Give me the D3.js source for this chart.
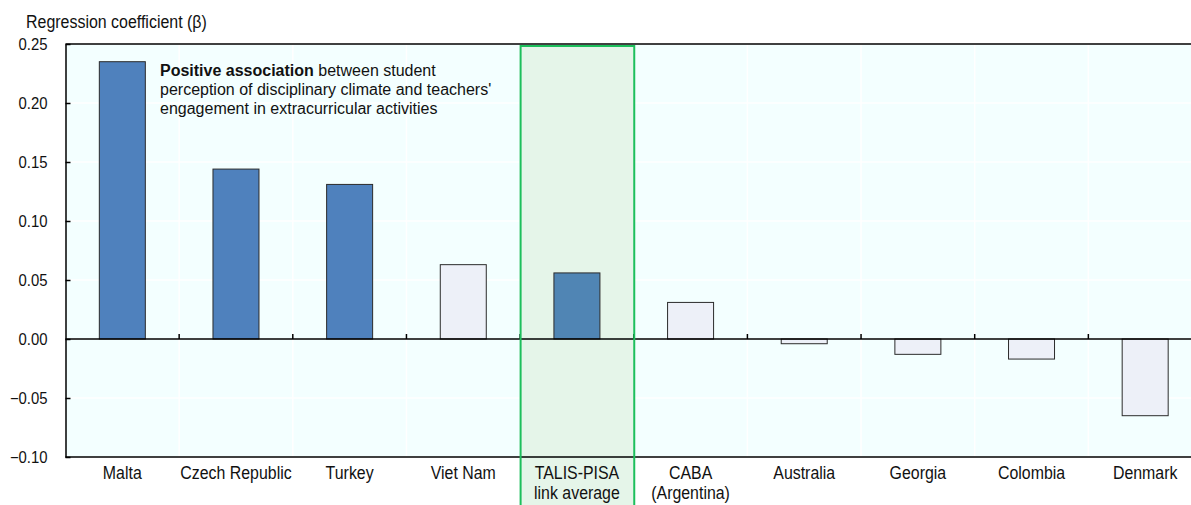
<!DOCTYPE html>
<html><head><meta charset="utf-8">
<script src="https://cdn.jsdelivr.net/npm/d3@7"></script>
<style>body{margin:0;background:#fff;}svg{display:block;font-family:"Liberation Sans",Arial,sans-serif;}</style>
</head><body><svg id="c" width="1191" height="505"></svg>
<script>
const categories = ["Malta","Czech Republic","Turkey","Viet Nam","TALIS-PISA\nlink average","CABA\n(Argentina)","Australia","Georgia","Colombia","Denmark"];
const values = [0.235, 0.144, 0.131, 0.063, 0.056, 0.031, -0.004, -0.013, -0.017, -0.065];
const significant = [true, true, true, false, true, false, false, false, false, false];
const yTicks = [0.25, 0.20, 0.15, 0.10, 0.05, 0.00, -0.05, -0.10];
const yLabel = "Regression coefficient (β)";
const highlight = "TALIS-PISA\nlink average";

const svg = d3.select("#c");
const m = {l:65.5, r:1202, t:44, b:457};
const x = d3.scaleBand().domain(categories).range([m.l, m.r]).paddingInner(0).paddingOuter(0);
const y = d3.scaleLinear().domain([-0.10, 0.25]).range([m.b, m.t]);
const txt = "#111";

svg.append("rect").attr("x", m.l).attr("y", m.t).attr("width", m.r - m.l).attr("height", m.b - m.t).attr("fill", "#f3ffff");

// gridlines
svg.append("g").selectAll("line").data(yTicks).join("line")
  .attr("x1", m.l).attr("x2", m.r).attr("y1", d => y(d)).attr("y2", d => y(d))
  .attr("stroke", "#ffffff").attr("stroke-width", 1.5);
svg.append("g").selectAll("line").data(categories.slice(1)).join("line")
  .attr("x1", d => x(d)).attr("x2", d => x(d)).attr("y1", m.t).attr("y2", m.b)
  .attr("stroke", "#ffffff").attr("stroke-width", 1.5);

// highlight box fill
const hx = x(highlight);
svg.append("rect").attr("x", hx + 0.5).attr("y", 46).attr("width", x.bandwidth()).attr("height", 470)
  .attr("fill", "#e5f5e9");

// bars
const bw = 46;
svg.append("g").selectAll("rect").data(categories).join("rect")
  .attr("x", d => x(d) + x.bandwidth()/2 - bw/2)
  .attr("width", bw)
  .attr("y", (d,i) => y(Math.max(0, values[i])))
  .attr("height", (d,i) => Math.abs(y(values[i]) - y(0)))
  .attr("fill", (d,i) => d === highlight ? "#5085b4" : (significant[i] ? "#4f81bd" : "#edf0f8"))
  .attr("stroke", "#2b2b2b").attr("stroke-width", 1);

// zero line
svg.append("line").attr("x1", m.l).attr("x2", m.r).attr("y1", y(0)).attr("y2", y(0)).attr("stroke", "#000").attr("stroke-width", 1.5);
// x ticks at category boundaries
svg.append("g").selectAll("line").data(categories.slice(1)).join("line")
  .attr("x1", d => x(d)).attr("x2", d => x(d)).attr("y1", y(0)).attr("y2", y(0) - 5)
  .attr("stroke", "#000").attr("stroke-width", 1.5);

// frame
svg.append("line").attr("x1", m.l).attr("x2", m.r).attr("y1", m.t).attr("y2", m.t).attr("stroke", "#000").attr("stroke-width", 1.5);
svg.append("line").attr("x1", m.l).attr("x2", m.r).attr("y1", m.b).attr("y2", m.b).attr("stroke", "#000").attr("stroke-width", 1.5);

// y axis
const yAxis = svg.append("g").attr("transform", `translate(${m.l},0)`)
  .call(d3.axisLeft(y).tickValues(yTicks).tickFormat(d3.format(".2f")).tickSizeInner(-5).tickSizeOuter(0).tickPadding(18));
yAxis.select(".domain").attr("stroke", "#000").attr("stroke-width", 1.5);
yAxis.selectAll(".tick line").attr("stroke", "#000").attr("stroke-width", 1.5);
const tsx = 0.93;
yAxis.selectAll("text").attr("font-size", 16).attr("fill", txt)
  .attr("font-family", "Liberation Sans, Arial, sans-serif")
  .attr("x", -18 / tsx).attr("transform", `scale(${tsx},1)`);

// x labels (condensed)
const xsx = 0.86;
svg.append("g").selectAll("text").data(categories).join("text")
  .attr("transform", d => `translate(${x(d) + x.bandwidth()/2},479) scale(${xsx},1)`)
  .attr("text-anchor", "middle").attr("font-size", 18.5).attr("fill", txt)
  .each(function(d){
    const lines = d.split("\n");
    d3.select(this).selectAll("tspan").data(lines).join("tspan")
      .attr("x", 0).attr("y", (l,i) => i * 20.5).text(l => l);
  });

// highlight box stroke
svg.append("rect").attr("x", hx + 0.5).attr("y", 46).attr("width", x.bandwidth()).attr("height", 470)
  .attr("fill", "none").attr("stroke", "#1dbf5c").attr("stroke-width", 2);

// y label
svg.append("text").attr("transform", "translate(26,28) scale(0.84,1)").attr("font-size", 19).attr("fill", txt).text(yLabel);

// annotation
const ann = svg.append("text").attr("x", 160).attr("y", 76).attr("font-size", 16).attr("fill", txt);
const t1 = ann.append("tspan").attr("x", 160);
t1.append("tspan").attr("font-weight", "bold").text("Positive association");
t1.append("tspan").text(" between student");
ann.append("tspan").attr("x", 160).attr("dy", 19).text("perception of disciplinary climate and teachers'");
ann.append("tspan").attr("x", 160).attr("dy", 19).text("engagement in extracurricular activities");
</script></body></html>
